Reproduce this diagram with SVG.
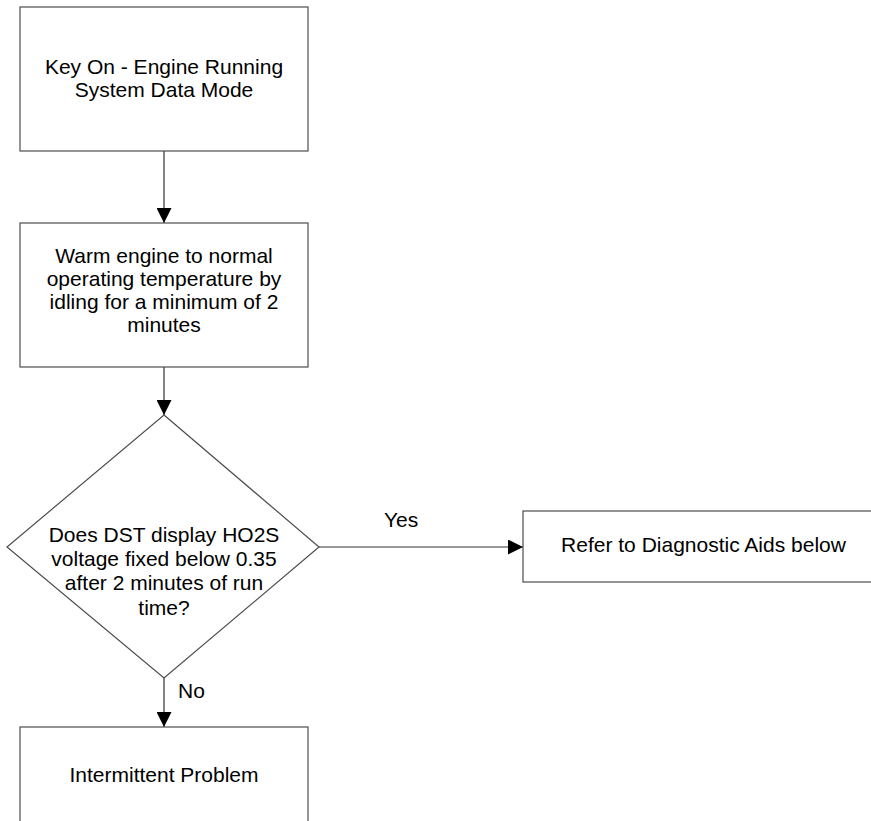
<svg xmlns="http://www.w3.org/2000/svg" width="871" height="821" viewBox="0 0 871 821">
<defs>
<style>
.box{fill:#fff;stroke:#4d4d4d;stroke-width:1.2}
.t{font-family:"Liberation Sans",Arial,sans-serif;font-size:21px;fill:#000;text-anchor:middle}
.lbl{font-family:"Liberation Sans",Arial,sans-serif;font-size:21px;fill:#000}
.c{stroke:#333;stroke-width:1.2;fill:none}
</style>
<marker id="ah" markerUnits="userSpaceOnUse" markerWidth="15" markerHeight="15" viewBox="0 0 14 14" refX="14" refY="7" orient="auto">
<path d="M0,0 L14,7 L0,14 Z" fill="#000"/>
</marker>
</defs>
<rect width="871" height="821" fill="#fff"/>
<g id="connectors">
<line class="c" x1="164" y1="151" x2="164" y2="223" marker-end="url(#ah)"/>
<line class="c" x1="164" y1="367" x2="164" y2="415" marker-end="url(#ah)"/>
<line class="c" x1="319" y1="547" x2="523" y2="547" marker-end="url(#ah)"/>
<line class="c" x1="164" y1="678" x2="164" y2="727" marker-end="url(#ah)"/>
<text class="lbl" x="384" y="527">Yes</text>
<text class="lbl" x="178" y="698">No</text>
</g>
<g id="n1">
<rect class="box" x="20" y="7" width="288" height="144"/>
<text class="t" x="164" y="74">Key On - Engine Running</text>
<text class="t" x="164" y="97">System Data Mode</text>
</g>
<g id="n2">
<rect class="box" x="20" y="223" width="288" height="144"/>
<text class="t" x="164" y="263">Warm engine to normal</text>
<text class="t" x="164" y="286">operating temperature by</text>
<text class="t" x="164" y="309">idling for a minimum of 2</text>
<text class="t" x="164" y="332">minutes</text>
</g>
<g id="n3">
<polygon class="box" points="164,415 319,547 164,678 7,547"/>
<text class="t" x="164" y="542">Does DST display HO2S</text>
<text class="t" x="164" y="566">voltage fixed below 0.35</text>
<text class="t" x="164" y="590">after 2 minutes of run</text>
<text class="t" x="164" y="615">time?</text>
</g>
<g id="n4">
<rect class="box" x="523" y="511" width="361" height="71"/>
<text class="t" x="703.5" y="552">Refer to Diagnostic Aids below</text>
</g>
<g id="n5">
<rect class="box" x="20" y="727" width="288" height="144"/>
<text class="t" x="164" y="782">Intermittent Problem</text>
</g>
</svg>
